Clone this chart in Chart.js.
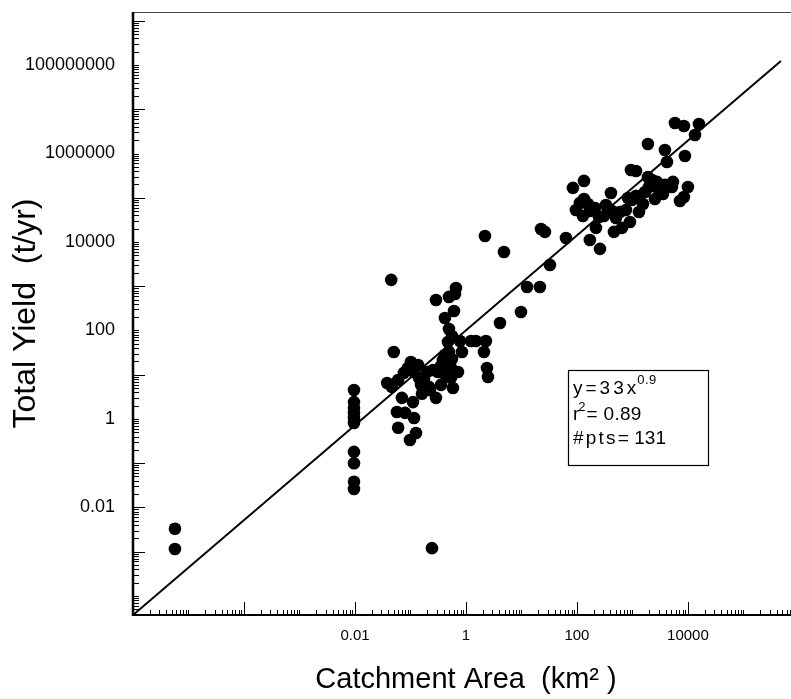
<!DOCTYPE html>
<html>
<head>
<meta charset="utf-8">
<script src="https://cdn.jsdelivr.net/npm/chart.js@4.4.1/dist/chart.umd.min.js"></script>
<style>
  html, body { margin: 0; padding: 0; background: #fff; }
</style>
</head>
<body>
<canvas id="yieldChart" width="791" height="699"></canvas>
<script>
// catchment area (km2) and total yield (t/yr)
const areaKm2 = [
  5.7e-6, 5.7e-6,
  0.0096, 0.0096, 0.0096, 0.0096, 0.0096, 0.0096, 0.0096, 0.0096, 0.0096, 0.0096,
  0.045, 0.050, 0.038, 0.046, 0.060, 0.070, 0.057, 0.080, 0.060, 0.098,
  0.076, 0.090, 0.102, 0.116, 0.137, 0.142, 0.155, 0.111, 0.116, 0.126,
  0.175, 0.198, 0.215, 0.254, 0.288, 0.313, 0.355, 0.385, 0.418, 0.436,
  0.494, 0.537, 0.288, 0.494, 0.418, 0.494, 0.56, 0.474, 0.56, 0.634,
  0.66, 0.608, 0.537, 0.583, 0.78, 0.847, 0.718, 1.23, 1.51, 2.29,
  2.11, 2.39, 2.49, 0.161, 0.244, 0.224, 0.355,
  2.2, 4.84, 4.1, 9.8, 12.6, 21.5, 22.5, 26.5, 32.6, 63.4,
  84.7, 134, 171, 95.9, 113, 134, 158, 128, 171, 211,
  220, 249, 260, 306, 333, 410, 427, 464, 504, 595,
  647, 763, 830, 902, 940, 1160, 980, 1160, 1310, 1550,
  1680, 1900, 1900, 1980, 2250, 2760, 3550, 3850, 3850, 4190,
  5150, 5370, 5830, 7180, 8470, 8470, 8830, 10000, 13400, 15800,
  3000, 2540
];
const yieldTyr = [
  0.0033, 0.00115,
  4.5, 2.4, 1.8, 1.37, 1.05, 0.81, 0.18, 0.10, 0.038, 0.026,
  1390, 32.7, 6.5, 5.3, 7.6, 3.0, 1.44, 1.37, 0.63, 0.335,
  11, 14.2, 19.4, 11.5, 16.6, 8.5, 5.9, 2.4, 1.05, 0.48,
  7.6, 11.5, 5.3, 12.8, 3.0, 11.5, 15.8, 21.6, 28, 9.4,
  32.7, 14.2, 490, 573, 192, 108, 75, 55, 22.7, 669,
  914, 276, 8.5, 5.0, 58, 32.7, 11.5, 58, 58, 58,
  32.7, 14.2, 8.9, 3.7, 0.0012, 4.5, 5.9,
  13700, 5960, 148, 262, 964, 964, 19700, 16900, 3030, 12300,
  167000, 240000, 11100, 53000, 76300, 94000, 72400, 38800, 50300, 58800,
  20800, 36800, 6970, 38800, 68700, 128000, 50300, 16900, 34900, 47700,
  20800, 53000, 98900, 28400, 425000, 403000, 89100, 110000, 47700, 72400,
  135000, 295000, 1640000, 175000, 252000, 228000, 122000, 1200000, 195000, 644000,
  175000, 228000, 4910000, 84700, 4200000, 104000, 881000, 175000, 2630000, 4660000,
  150000, 94000
];

// regression line ends, as drawn
const fitArea = [1e-6, 474000];
const fitYield = [3.7e-5, 1.24e8];

const xTickLabels = [0.01, 1, 100, 10000];
const yTickLabels = [0.01, 1, 100, 10000, 1000000, 100000000];

const fitText = ['y=33x', '0.9', 'r', '2', '= 0.89', '#pts=', ' 131'];

const FONT = 'Arial, "Liberation Sans", sans-serif';

function logTicks(min, max) {
  const out = [];
  for (let e = Math.floor(Math.log10(min)); e <= Math.ceil(Math.log10(max)); e++) {
    for (let m = 1; m < 10; m++) {
      const v = m * Math.pow(10, e);
      if (v >= min * 0.999 && v <= max * 1.001) out.push({ value: v, major: m === 1 });
    }
  }
  return out;
}

function labelFor(v, list) {
  const hit = list.find(l => Math.abs(Math.log10(v / l)) < 1e-6);
  return hit === undefined ? '' : String(hit);
}

function noPad(s) {
  s.paddingTop = 0;
  s.paddingBottom = 0;
  s.paddingLeft = 0;
  s.paddingRight = 0;
}

function spaced(ctx, text, x, y, gap) {
  for (const ch of text) {
    ctx.fillText(ch, x, y);
    x += ctx.measureText(ch).width + gap;
  }
  return x;
}

const frame = {
  id: 'frame',
  afterDraw(chart) {
    const { ctx, chartArea: a } = chart;
    const xs = chart.scales.x, ys = chart.scales.y;
    ctx.save();
    ctx.strokeStyle = '#000';

    // inward tick marks
    ctx.lineWidth = 1;
    ctx.beginPath();
    ys.ticks.forEach(t => {
      const e = Math.round(Math.log10(t.value));
      const long = t.major && (Math.abs(e) % 2 === 1 || e === -2);
      const y = Math.round(ys.getPixelForValue(t.value)) + 0.5;
      ctx.moveTo(a.left, y);
      ctx.lineTo(a.left + (long ? 12 : 6), y);
    });
    xs.ticks.forEach(t => {
      const e = Math.round(Math.log10(t.value));
      const long = t.major && Math.abs(e) % 2 === 0;
      const x = Math.round(xs.getPixelForValue(t.value)) + 0.5;
      ctx.moveTo(x, a.bottom);
      ctx.lineTo(x, a.bottom - (long ? 13 : 5));
    });
    ctx.stroke();

    // top border
    ctx.strokeStyle = '#444';
    ctx.lineWidth = 1;
    ctx.beginPath();
    ctx.moveTo(a.left, a.top + 0.5);
    ctx.lineTo(a.right, a.top + 0.5);
    ctx.stroke();

    // axis lines
    ctx.strokeStyle = '#000';
    ctx.lineWidth = 2.5;
    ctx.beginPath();
    ctx.moveTo(a.left, a.top);
    ctx.lineTo(a.left, a.bottom + 1);
    ctx.stroke();
    ctx.lineWidth = 2;
    ctx.beginPath();
    ctx.moveTo(a.left - 1, a.bottom);
    ctx.lineTo(a.right, a.bottom);
    ctx.stroke();

    // fit statistics box
    const bx = 568, by = 370, bw = 140, bh = 95;
    ctx.fillStyle = '#fff';
    ctx.fillRect(bx, by, bw, bh);
    ctx.lineWidth = 1.2;
    ctx.strokeRect(bx + 0.5, by + 0.5, bw, bh);
    ctx.fillStyle = '#000';
    ctx.textBaseline = 'alphabetic';
    ctx.font = '19px ' + FONT;
    let x = spaced(ctx, fitText[0], 573, 394, 3);
    ctx.font = '13px ' + FONT;
    spaced(ctx, fitText[1], x - 2, 384, 0.5);
    ctx.font = '19px ' + FONT;
    x = spaced(ctx, fitText[2], 573, 420, 0);
    ctx.font = '13px ' + FONT;
    x = spaced(ctx, fitText[3], x - 1, 411, 0);
    ctx.font = '19px ' + FONT;
    spaced(ctx, fitText[4], x + 1, 420, 0.3);
    x = spaced(ctx, fitText[5], 573, 444, 2.2);
    spaced(ctx, fitText[6], x - 2, 444, 0);
    ctx.restore();
  }
};

const chart = new Chart(document.getElementById('yieldChart'), {
  type: 'scatter',
  data: {
    datasets: [
      {
        label: 'Catchments',
        data: areaKm2.map((a, i) => ({ x: a, y: yieldTyr[i] })),
        backgroundColor: '#000',
        borderWidth: 0,
        pointRadius: 6.3,
        pointHoverRadius: 6.3
      },
      {
        label: 'Fit',
        type: 'line',
        data: fitArea.map((a, i) => ({ x: a, y: fitYield[i] })),
        borderColor: '#000',
        borderWidth: 2,
        pointRadius: 0,
        fill: false,
        tension: 0
      }
    ]
  },
  options: {
    responsive: false,
    animation: false,
    events: [],
    layout: { autoPadding: false, padding: { top: 12, left: 0, right: 0, bottom: 0 } },
    plugins: { legend: { display: false }, tooltip: { enabled: false } },
    scales: {
      x: {
        type: 'logarithmic',
        bounds: 'data',
        min: 1e-6,
        max: 7.2e5,
        border: { display: false },
        grid: { display: false, drawTicks: false },
        afterBuildTicks: s => { s.ticks = logTicks(s.min, s.max); },
        afterFit: s => { s.height = 84; noPad(s); },
        ticks: {
          autoSkip: false,
          maxRotation: 0,
          padding: 12,
          color: '#000',
          font: { family: FONT, size: 15 },
          callback: v => labelFor(v, xTickLabels)
        },
        title: {
          display: true,
          text: ' Catchment Area  (km² )',
          color: '#000',
          font: { family: FONT, size: 29 },
          padding: { top: 0, bottom: 2 }
        }
      },
      y: {
        type: 'logarithmic',
        bounds: 'data',
        min: 3.7e-5,
        max: 1.58e9,
        border: { display: false },
        grid: { display: false, drawTicks: false },
        afterBuildTicks: s => { s.ticks = logTicks(s.min, s.max); },
        afterFit: s => { s.width = 133; noPad(s); },
        ticks: {
          autoSkip: false,
          padding: 18,
          color: '#000',
          font: { family: FONT, size: 18 },
          callback: v => labelFor(v, yTickLabels)
        },
        title: {
          display: true,
          text: 'Total Yield  (t/yr)',
          color: '#000',
          font: { family: FONT, size: 32 },
          padding: { top: 7, bottom: 0 }
        }
      }
    }
  },
  plugins: [frame]
});
</script>
</body>
</html>
